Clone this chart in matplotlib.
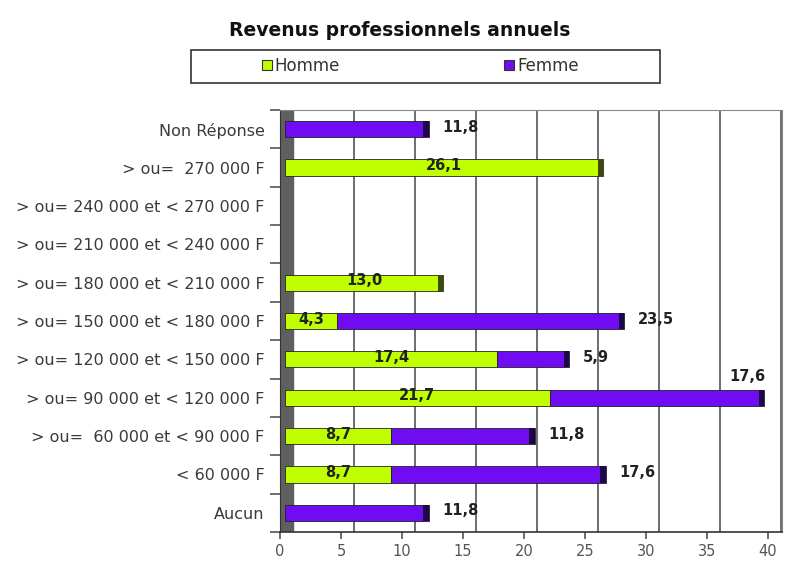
import matplotlib.pyplot as plt
import numpy as np
from matplotlib.patches import Rectangle, Patch

# Data
categories = [
    "Aucun",
    "< 60 000 F",
    "> ou=  60 000 et < 90 000 F",
    "> ou= 90 000 et < 120 000 F",
    "> ou= 120 000 et < 150 000 F",
    "> ou= 150 000 et < 180 000 F",
    "> ou= 180 000 et < 210 000 F",
    "> ou= 210 000 et < 240 000 F",
    "> ou= 240 000 et < 270 000 F",
    "> ou=  270 000 F",
    "Non Réponse",
]
homme = [0, 8.7, 8.7, 21.7, 17.4, 4.3, 13.0, 0, 0, 26.1, 0]
femme = [11.8, 17.6, 11.8, 17.6, 5.9, 23.5, 0, 0, 0, 0, 11.8]
xticks = [0, 5, 10, 15, 20, 25, 30, 35, 40]

green = "#bfff00"
purple = "#6f0cf2"
green_side = "#3f4a08"
purple_side = "#1c0848"

plt.rcParams["font.family"] = ["DejaVu Sans"]

fig = plt.figure(figsize=(7.91, 5.81), dpi=100)
ax = fig.add_axes([280 / 791, 1 - 532 / 581, 502 / 791, 422 / 581])

y = np.arange(len(categories))
homme = np.array(homme)
femme = np.array(femme)
total = homme + femme

depth = 1.07   # 3D wall depth in data units
shift = 0.4    # bars sit a little in front of the wall
cap = 0.45
h = 0.42

# back wall and gridlines
ax.axvspan(0, depth, color="#5f5f5f", zorder=1)
for t in xticks[1:]:
    ax.axvline(t + depth, color="#555555", lw=1.2, zorder=1)

mh = homme > 0
mf = femme > 0
ax.barh(y[mh], homme[mh], left=shift, height=h, color=green, edgecolor="#222222",
        lw=0.6, zorder=3)
ax.barh(y[mf], femme[mf], left=homme[mf] + shift, height=h, color=purple,
        edgecolor="#222222", lw=0.6, zorder=3)

# dark bar ends (3D side)
for yi, hv, fv, tv in zip(y, homme, femme, total):
    if tv == 0:
        continue
    col = purple_side if fv > 0 else green_side
    ax.barh(yi, cap, left=tv + shift - cap, height=h, color=col, lw=0, zorder=4)

# labels
for yi, hv, fv, tv in zip(y, homme, femme, total):
    if hv > 0:
        ax.text(hv / 2 + shift, yi + 0.05, f"{hv:.1f}".replace(".", ","), ha="center",
                va="center", fontsize=10.5, fontweight="bold", color="#222222", zorder=5)
    if fv > 0:
        lab = f"{fv:.1f}".replace(".", ",")
        if tv > 35:
            ax.text(tv + shift - 1.4, yi + 0.55, lab, ha="center", va="center",
                    fontsize=10.5, fontweight="bold", color="#222222", zorder=5)
        else:
            ax.text(tv + shift + 1.1, yi + 0.05, lab, ha="left", va="center",
                    fontsize=10.5, fontweight="bold", color="#222222", zorder=5)

ax.set_xlim(0, 41.15)
ax.set_ylim(-0.5, 10.45)
ax.set_xticks(xticks)
ax.set_xticklabels([str(t) for t in xticks], fontsize=10.5, color="#555555")
ax.set_yticks(y)
ax.set_yticklabels(categories, fontsize=11.5, color="#3a3a3a")
ax.tick_params(axis="y", length=0, pad=11)
ax.set_yticks(np.arange(-0.5, len(categories), 1.0), minor=True)
ax.tick_params(axis="y", which="minor", length=7, color="#555555", width=1.2)
ax.tick_params(axis="x", length=5, color="#555555", width=1.2, pad=4)

for side in ["top", "right"]:
    ax.spines[side].set_color("#888888")
ax.spines["left"].set_color("#333333")
ax.spines["bottom"].set_color("#333333")
ax.spines["bottom"].set_linewidth(1.2)

# title and legend
fig.text(400 / 791, 1 - 30 / 581, "Revenus professionnels annuels", ha="center",
         va="center", fontsize=13.5, fontweight="bold", color="#111111")
fig.patches.append(Rectangle((191 / 791, 1 - 83 / 581), 469 / 791, 33 / 581,
                             transform=fig.transFigure, fill=False,
                             edgecolor="#333333", lw=1.2))
handles = [Patch(facecolor=green, edgecolor="#333333", lw=0.8),
           Patch(facecolor=purple, edgecolor="#333333", lw=0.8)]
fig.legend(handles, ["Homme", "Femme"], loc="center",
           bbox_to_anchor=(420 / 791, 1 - 66 / 581), ncol=2, frameon=False,
           fontsize=12, handlelength=0.6, handleheight=0.6, handletextpad=0.2,
           columnspacing=9.8, labelcolor="#333333")

plt.savefig("out.png", dpi=100)
